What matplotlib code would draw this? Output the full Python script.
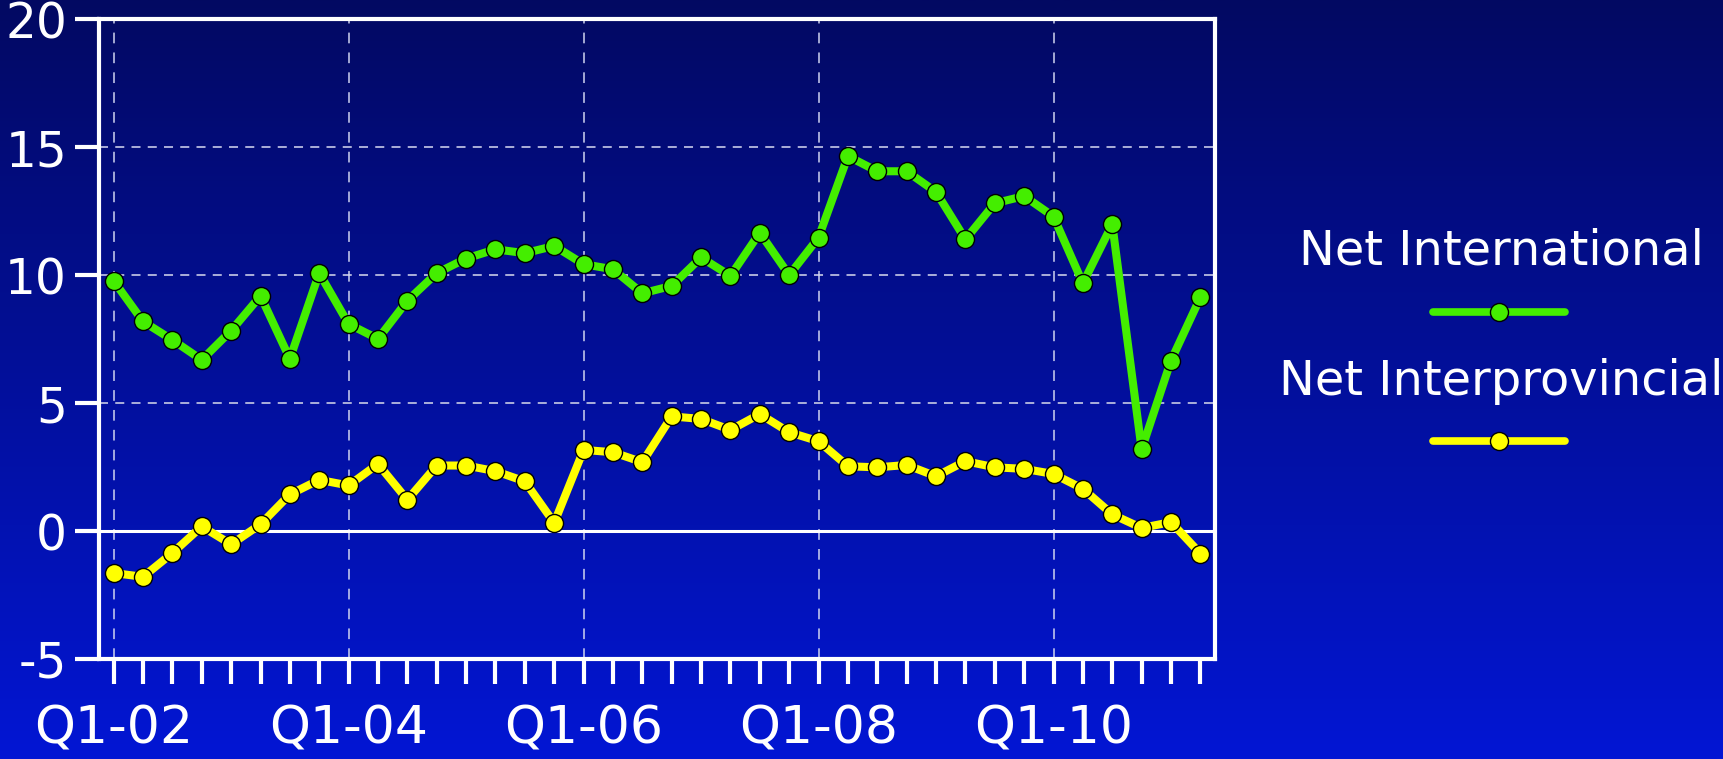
import matplotlib
matplotlib.use("Agg")
import matplotlib.pyplot as plt
import numpy as np
from matplotlib.lines import Line2D

plt.rcParams['font.family'] = ['DejaVu Sans']
plt.rcParams['axes.unicode_minus'] = False

# quarterly data, Q1-02 .. Q3-11 (thousands)
quarters = [f"Q{q}-{y:02d}" for y in range(2, 12) for q in range(1, 5)][:38]
net_international = [9.78, 8.19, 7.47, 6.69, 7.83, 9.19, 6.73, 10.08, 8.09, 7.51,
                     9.00, 10.08, 10.65, 11.01, 10.86, 11.14, 10.43, 10.23, 9.29, 9.58,
                     10.69, 9.97, 11.66, 10.00, 11.47, 14.65, 14.06, 14.06, 13.25, 11.40,
                     12.81, 13.09, 12.29, 9.68, 11.99, 3.19, 6.66, 9.13]
net_interprovincial = [-1.64, -1.79, -0.86, 0.18, -0.52, 0.26, 1.43, 2.00, 1.78, 2.62,
                       1.22, 2.56, 2.56, 2.34, 1.94, 0.32, 3.17, 3.08, 2.69, 4.48,
                       4.38, 3.95, 4.57, 3.86, 3.51, 2.53, 2.49, 2.58, 2.14, 2.73,
                       2.49, 2.43, 2.23, 1.65, 0.65, 0.12, 0.35, -0.88]
y_ticks = [-5, 0, 5, 10, 15, 20]
label_every = 8

green = '#44ee00'
yellow = '#ffff00'
grid_col = '#b8bce0'

fig = plt.figure(figsize=(17.24, 7.59), dpi=100)

# gradient background
bg = fig.add_axes([0, 0, 1, 1], zorder=-10)
top = np.array([2, 9, 98]) / 255
bot = np.array([3, 22, 212]) / 255
t = np.linspace(0, 1, 256)[:, None]
grad = (top[None, :] * (1 - t) + bot[None, :] * t)[:, None, :]
bg.imshow(grad, aspect='auto', extent=[0, 1, 0, 1], interpolation='bilinear')
bg.axis('off')

ax = fig.add_axes([0.0574, 0.1318, 0.6474, 0.8428])
ax.set_facecolor('none')

x = np.arange(len(quarters))
ax.plot(x, net_international, color=green, lw=5.8, marker='o', ms=13,
        mfc=green, mec='black', mew=1, solid_joinstyle='round', zorder=5)
ax.plot(x, net_interprovincial, color=yellow, lw=5.8, marker='o', ms=13,
        mfc=yellow, mec='black', mew=1, solid_joinstyle='round', zorder=5)

ax.set_xlim(-0.5, len(quarters) - 0.5)
ax.set_ylim(-5, 20)

# grid
for v in [5, 10, 15]:
    ax.axhline(v, color=grid_col, lw=1.3, ls=(0, (5, 4)), zorder=1)
for i in range(0, len(quarters), label_every):
    ax.axvline(i, color='#d0d4f0', lw=1.1, ls=(0, (7, 6)), zorder=1)
ax.axhline(0, color='white', lw=2.2, zorder=2)

for s in ax.spines.values():
    s.set_color('white')
    s.set_linewidth(3)

ax.set_yticks(y_ticks)
ax.set_yticklabels([str(v) for v in y_ticks])
ax.set_xticks(x)
ax.set_xticklabels([q if i % label_every == 0 else '' for i, q in enumerate(quarters)])
ax.tick_params(axis='y', colors='white', labelsize=35, length=17, width=3, pad=6)
ax.tick_params(axis='x', colors='white', labelsize=37.5, length=18, width=3, pad=15)

# legend
legend_items = [("Net International", green, 0.669, 0.589),
                ("Net Interprovincial", yellow, 0.497, 0.419)]
for name, col, ty, ly in legend_items:
    fig.text(0.8707, ty, name, color='white', fontsize=34.5, ha='center', va='center')
    fig.add_artist(Line2D([0.8314, 0.9077], [ly, ly], transform=fig.transFigure,
                          color=col, lw=5.5, solid_capstyle='round'))
    fig.add_artist(Line2D([0.8695], [ly], transform=fig.transFigure, marker='o',
                          ms=13, mfc=col, mec='black', mew=1, color=col))

fig.savefig('out.png', dpi=100)
